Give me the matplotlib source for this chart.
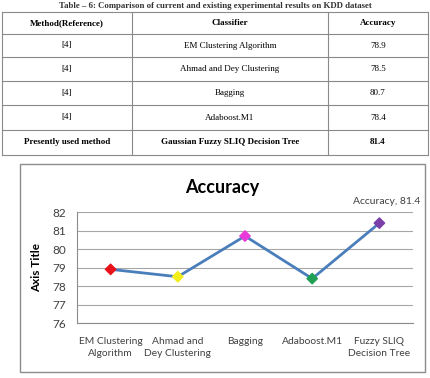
import matplotlib
matplotlib.use("Agg")
import matplotlib.pyplot as plt

# table data
col_headers = ["Method(Reference)", "Classifier", "Accuracy"]
methods = ["[4]", "[4]", "[4]", "[4]", "Presently used method"]
classifiers = ["EM Clustering Algorithm", "Ahmad and Dey Clustering", "Bagging",
               "Adaboost.M1", "Gaussian Fuzzy SLIQ Decision Tree"]
table_acc = ["78.9", "78.5", "80.7", "78.4", "81.4"]

# chart data
categories = ["EM Clustering\nAlgorithm", "Ahmad and\nDey Clustering", "Bagging",
              "Adaboost.M1", "Fuzzy SLIQ\nDecision Tree"]
accuracy = [78.9, 78.5, 80.7, 78.4, 81.4]
marker_colors = ["#e8101a", "#f2ee1c", "#e83ad8", "#1fa055", "#7a3fa8"]

W, H = 431, 378
fig = plt.figure(figsize=(W / 100, H / 100), dpi=100)

# background axes in pixel coords for the table
bg = fig.add_axes([0, 0, 1, 1])
bg.set_xlim(0, W)
bg.set_ylim(H, 0)
bg.axis("off")

serif = "Liberation Serif"
bg.text(W / 2, 5.5, "Table \u2013 6: Comparison of current and existing experimental results on KDD dataset",
        ha="center", va="center", fontsize=6.3, fontweight="bold", family=serif,
        color="#333333")

col_x = [2, 132, 328, 428]
row_y = [12, 34, 57, 81, 105, 130, 155]
lc = "#8a8a8a"
for y in row_y:
    bg.plot([col_x[0], col_x[-1]], [y, y], color=lc, lw=0.8)
for x in col_x:
    bg.plot([x, x], [row_y[0], row_y[-1]], color=lc, lw=0.8)

centers = [(col_x[i] + col_x[i + 1]) / 2 for i in range(3)]
for i, h in enumerate(col_headers):
    bg.text(centers[i], (row_y[0] + row_y[1]) / 2, h, ha="center", va="center",
            fontsize=6.5, fontweight="bold", family=serif)
for r in range(len(methods)):
    yc = (row_y[r + 1] + row_y[r + 2]) / 2
    bold = "bold" if r == len(methods) - 1 else "normal"
    for i, val in enumerate([methods[r], classifiers[r], table_acc[r]]):
        bg.text(centers[i], yc, val, ha="center", va="center", fontsize=6.5,
                fontweight=bold, family=serif)

# chart frame
bg.add_patch(plt.Rectangle((20, 164), 405, 208, fill=False, ec="#8c8c8c", lw=1))

sans = "Lato"
bg.text(222.5, 187, "Accuracy", ha="center", va="center", fontsize=13,
        fontweight="bold", family=sans)

ax = fig.add_axes([77 / W, 1 - 323 / H, (413 - 77) / W, (323 - 212) / H])
x = list(range(len(categories)))
ax.plot(x, accuracy, color="#4a7ebb", lw=2, zorder=2)
ax.scatter(x, accuracy, marker="D", s=28, c=marker_colors, zorder=3)
ax.set_xlim(-0.5, len(categories) - 0.5)
ax.set_ylim(76, 82)
ax.set_yticks(range(76, 83))
ax.set_xticks(x)
ax.set_xticklabels(categories, fontsize=7.4, family=sans, color="#404040",
                   linespacing=1.5)
for lab in ax.get_yticklabels():
    lab.set_fontsize(8.5)
    lab.set_family(sans)
    lab.set_color("#404040")
ax.tick_params(axis="both", length=0)
ax.tick_params(axis="y", pad=8)
ax.tick_params(axis="x", pad=10)
ax.grid(axis="y", color="#a6a6a6", lw=0.8)
ax.set_axisbelow(True)
for s in ["top", "right"]:
    ax.spines[s].set_visible(False)
ax.spines["left"].set_color("#8c8c8c")
ax.spines["bottom"].set_color("#8c8c8c")
ax.set_ylabel("Axis Title", fontsize=8.5, fontweight="bold", family=sans, labelpad=7)
ax.annotate("Accuracy, 81.4", xy=(x[-1], accuracy[-1]), xytext=(5, 12),
            textcoords="offset points", ha="center", va="bottom",
            fontsize=7.5, family=sans, color="#404040", annotation_clip=False)

fig.savefig("out.png", dpi=100)
